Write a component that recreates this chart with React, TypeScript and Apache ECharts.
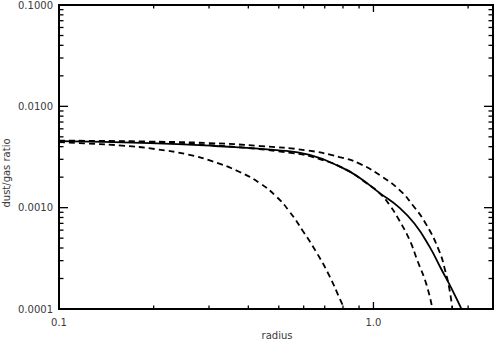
import React, { useEffect, useRef } from 'react';
import * as echarts from 'echarts';

// Curve data (radius, dust/gas ratio)
const solidX = [0.1, 0.1945, 0.313, 0.492, 0.627, 0.797, 0.903, 1.045, 1.209, 1.35, 1.506, 1.644, 1.769, 1.9];
const solidY = [0.00454, 0.00434, 0.00406, 0.0037, 0.00331, 0.00247, 0.00197, 0.0014, 0.001, 0.000697, 0.000415, 0.000247, 0.000161, 0.000102];

const dashAX = [0.1, 0.1945, 0.3015, 0.4345, 0.613, 0.78, 0.903, 1.068, 1.209, 1.33, 1.473, 1.62, 1.693, 1.742, 1.781];
const dashAY = [0.00459, 0.00449, 0.00434, 0.00406, 0.00368, 0.00316, 0.00272, 0.00201, 0.0015, 0.00107, 0.00068, 0.000371, 0.000236, 0.000161, 0.000102];

const dashBX = [0.1, 0.1945, 0.3015, 0.553, 0.674, 0.821, 0.957, 1.045, 1.124, 1.209, 1.301, 1.379, 1.473, 1.539];
const dashBY = [0.00454, 0.00444, 0.00415, 0.00346, 0.00302, 0.00236, 0.00172, 0.00139, 0.00107, 0.000746, 0.000485, 0.000302, 0.000176, 0.000102];

const dashCX = [0.1, 0.1236, 0.1585, 0.2018, 0.2568, 0.3082, 0.3755, 0.4345, 0.492, 0.541, 0.595, 0.659, 0.725, 0.78, 0.809];
const dashCY = [0.00444, 0.00429, 0.0041, 0.00379, 0.00335, 0.00286, 0.00225, 0.00175, 0.00128, 0.000914, 0.000595, 0.000362, 0.000211, 0.000128, 0.0001];

// Axis ranges and ticks
const xRange = [0.1, 2.4];
const yRange = [0.0001, 0.1];
const xMajorTicks = [0.1, 1.0];
const xMinorTicks = [0.2, 0.3, 0.4, 0.5, 0.6, 0.7, 0.8, 0.9, 2.0];
const yMajorTicks = [0.0001, 0.001, 0.01, 0.1];
const yMinorTicks = [
  0.0002, 0.0003, 0.0004, 0.0005, 0.0006, 0.0007, 0.0008, 0.0009,
  0.002, 0.003, 0.004, 0.005, 0.006, 0.007, 0.008, 0.009,
  0.02, 0.03, 0.04, 0.05, 0.06, 0.07, 0.08, 0.09,
];

const xTitle = 'radius';
const yTitle = 'dust/gas ratio';

const zip = (xs: number[], ys: number[]) => xs.map((x, i) => [x, ys[i]]);

const FONT = 'DejaVu Sans';
const TEXT_COLOR = '#3a3a3a';

function xTickSeries(values: number[], len: number) {
  return {
    type: 'custom',
    silent: true,
    z: 10,
    clip: false,
    data: values.map((v) => [v, 0.001]),
    renderItem: (params: any, api: any) => {
      const cs = params.coordSys;
      const p = api.coord([api.value(0), api.value(1)]);
      const style = { stroke: '#000', lineWidth: 1.3 };
      return {
        type: 'group',
        children: [
          { type: 'line', shape: { x1: p[0], y1: cs.y + cs.height, x2: p[0], y2: cs.y + cs.height - len }, style },
          { type: 'line', shape: { x1: p[0], y1: cs.y, x2: p[0], y2: cs.y + len }, style },
        ],
      };
    },
  };
}

function yTickSeries(values: number[], len: number) {
  return {
    type: 'custom',
    silent: true,
    z: 10,
    clip: false,
    data: values.map((v) => [0.5, v]),
    renderItem: (params: any, api: any) => {
      const cs = params.coordSys;
      const p = api.coord([api.value(0), api.value(1)]);
      const style = { stroke: '#000', lineWidth: 1.3 };
      return {
        type: 'group',
        children: [
          { type: 'line', shape: { x1: cs.x, y1: p[1], x2: cs.x + len, y2: p[1] }, style },
          { type: 'line', shape: { x1: cs.x + cs.width, y1: p[1], x2: cs.x + cs.width - len, y2: p[1] }, style },
        ],
      };
    },
  };
}

function lineSeries(xs: number[], ys: number[], dashed: boolean) {
  return {
    type: 'line',
    data: zip(xs, ys),
    symbol: 'none',
    smooth: 0.5,
    lineStyle: { color: '#000', width: 1.8, type: dashed ? [6, 4] : 'solid' },
    z: 5,
  };
}

export default function App() {
  const ref = useRef<HTMLDivElement>(null);

  useEffect(() => {
    if (!ref.current) return;
    const chart = echarts.init(ref.current, undefined, { renderer: 'svg' });
    chart.setOption({
      animation: false,
      backgroundColor: '#fff',
      grid: {
        left: 59,
        right: 2,
        top: 2,
        bottom: 30,
        show: true,
        borderColor: '#000',
        borderWidth: 2,
        backgroundColor: 'transparent',
      },
      xAxis: {
        type: 'log',
        logBase: 10,
        min: xRange[0],
        max: xRange[1],
        axisLine: { show: false },
        axisTick: { show: false },
        splitLine: { show: false },
        minorTick: { show: false },
        axisLabel: {
          margin: 8,
          fontSize: 10,
          fontFamily: FONT,
          color: TEXT_COLOR,
          showMaxLabel: false,
          formatter: (v: number) => v.toFixed(1),
        },
      },
      yAxis: {
        type: 'log',
        logBase: 10,
        min: yRange[0],
        max: yRange[1],
        axisLine: { show: false },
        axisTick: { show: false },
        splitLine: { show: false },
        axisLabel: {
          margin: 6,
          fontSize: 10,
          fontFamily: FONT,
          color: TEXT_COLOR,
          formatter: (v: number) => v.toFixed(4),
        },
      },
      graphic: [
        {
          type: 'text',
          x: 277,
          y: 335,
          style: {
            text: xTitle,
            fontSize: 10,
            fontFamily: FONT,
            fill: TEXT_COLOR,
            align: 'center',
            verticalAlign: 'middle',
          },
        },
        {
          type: 'text',
          x: 6,
          y: 173,
          rotation: Math.PI / 2,
          style: {
            text: yTitle,
            fontSize: 10,
            fontFamily: FONT,
            fill: TEXT_COLOR,
            align: 'center',
            verticalAlign: 'middle',
          },
        },
      ],
      series: [
        lineSeries(solidX, solidY, false),
        lineSeries(dashAX, dashAY, true),
        lineSeries(dashBX, dashBY, true),
        lineSeries(dashCX, dashCY, true),
        xTickSeries(xMajorTicks, 7),
        xTickSeries(xMinorTicks, 3.5),
        yTickSeries(yMajorTicks, 9),
        yTickSeries(yMinorTicks, 4.5),
      ],
    });
    return () => chart.dispose();
  }, []);

  return (
    <div
      ref={ref}
      style={{ position: 'fixed', left: 0, top: 0, width: 495, height: 339, background: '#fff' }}
    />
  );
}
